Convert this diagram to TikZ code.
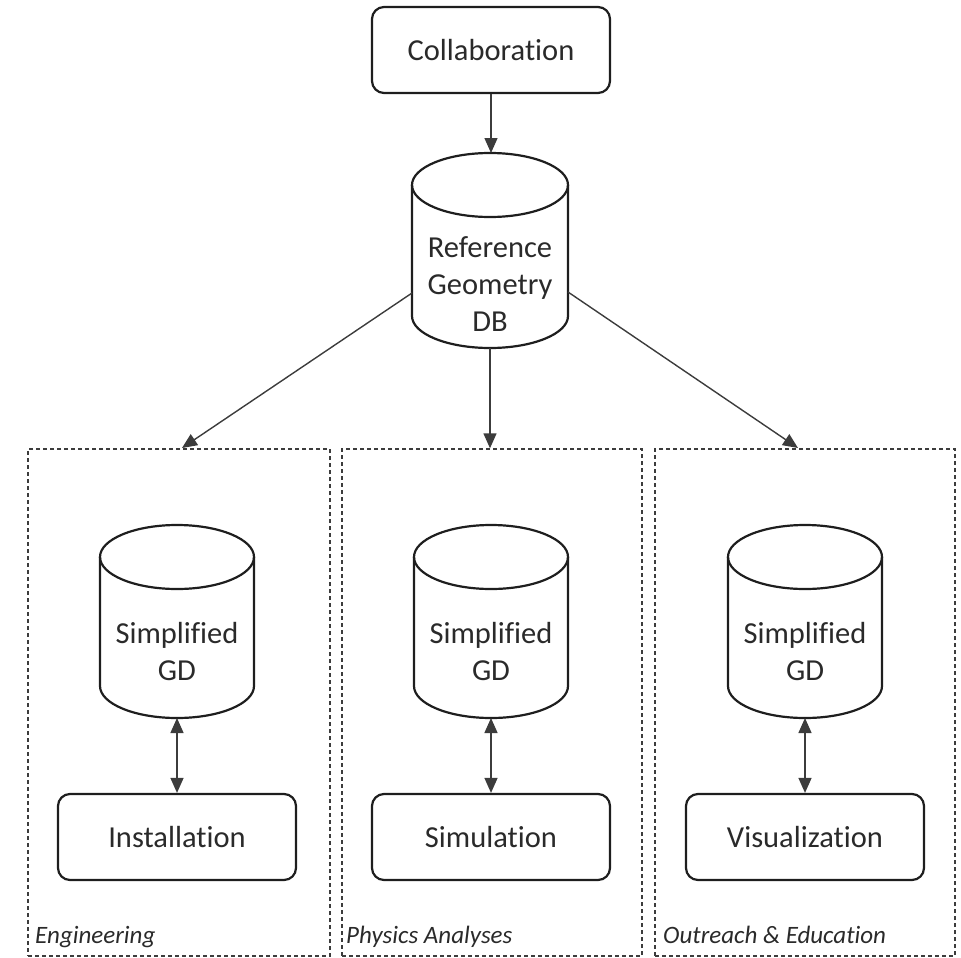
\documentclass[tikz,border=0pt]{standalone}
\usepackage{fontspec}
\setmainfont[Ligatures=NoCommon]{Carlito}
\usetikzlibrary{arrows.meta,calc}

\definecolor{ink}{HTML}{1E1E1E}
\definecolor{txt}{HTML}{2A2A2A}
\definecolor{wire}{HTML}{3C3C3C}

\tikzset{
  boxline/.style={draw=ink, line width=2.2pt},
  roundbox/.style={boxline, rounded corners=12pt, minimum width=238pt,
    minimum height=86pt, text=txt, font=\fontsize{30.5}{37}\selectfont},
  group/.style={draw=wire, line width=1.4pt, dash pattern=on 4pt off 3pt,
    minimum width=#1, minimum height=507pt},
  cylbox/.style={inner sep=0pt, outer sep=0pt},
  dbtext/.style={align=center, text=txt, font=\fontsize{30.5}{37}\selectfont},
  grouplabel/.style={anchor=base west, text=txt, inner sep=0pt,
    font=\fontsize{25}{30}\selectfont\itshape},
  link/.style={draw=wire, line width=1.4pt, -{Triangle[length=15pt,width=13pt]}},
  duplex/.style={draw=wire, line width=1.4pt,
    {Triangle[length=15pt,width=13pt]}-{Triangle[length=15pt,width=13pt]}},
}

% database cylinder: name, centre x, top row, bottom row, half width
\newcommand\dbcylinder[5]{%
  \node[cylbox, minimum width=2*#5 pt, minimum height=#4-#3 pt] (#1)
    at (#2,{-(#3+#4)/2}) {};
  \draw[boxline] (#2-#5,-#3-32) -- (#2-#5,-#4+32)
    arc[start angle=180, end angle=360, x radius=#5, y radius=32]
    -- (#2+#5,-#3-32);
  \draw[boxline] (#2,-#3-32) ellipse[x radius=#5, y radius=32];
}

\begin{document}
\begin{tikzpicture}[x=1pt, y=1pt]
  \useasboundingbox (0,0) rectangle (961,-958);

  % top of the chain
  \node[roundbox] (collab) at (491,-50) {Collaboration};
  \dbcylinder{ref}{490}{153}{348}{78}
  \node[dbtext] (reftext) at (490,-284) {Reference\\Geometry\\DB};

  % the three working groups
  \node[group=302pt] (eng) at (179,-702.5) {};
  \node[group=300pt] (phy) at (492,-702.5) {};
  \node[group=300pt] (out) at (805,-702.5) {};

  \node[grouplabel] (englabel) at (35,-943) {Engineering};
  \node[grouplabel] (phylabel) at (346,-943) {Physics Analyses};
  \node[grouplabel] (outlabel) at (663,-943) {Outreach \& Education};

  % simplified geometry databases
  \dbcylinder{sg1}{177}{525}{718}{77}
  \dbcylinder{sg2}{491}{525}{718}{77}
  \dbcylinder{sg3}{805}{525}{718}{77}
  \node[dbtext] (sg1text) at (177,-652) {Simplified\\GD};
  \node[dbtext] (sg2text) at (491,-652) {Simplified\\GD};
  \node[dbtext] (sg3text) at (805,-652) {Simplified\\GD};

  % applications
  \node[roundbox] (inst) at (177,-837) {Installation};
  \node[roundbox] (simu) at (491,-837) {Simulation};
  \node[roundbox] (visu) at (805,-837) {Visualization};

  % connectors
  \coordinate (refL) at (412,-293);
  \coordinate (refR) at (568,-292);
  \coordinate (engTop) at (182,-448);
  \coordinate (outTop) at (798,-448);

  \draw[link] (collab.south) -- (collab.south |- ref.north);
  \draw[link] (refL) -- (engTop);
  \draw[link] (ref.south) -- (ref.south |- phy.north);
  \draw[link] (refR) -- (outTop);

  \draw[duplex] (sg1.south) -- (inst.north);
  \draw[duplex] (sg2.south) -- (simu.north);
  \draw[duplex] (sg3.south) -- (visu.north);
\end{tikzpicture}
\end{document}
